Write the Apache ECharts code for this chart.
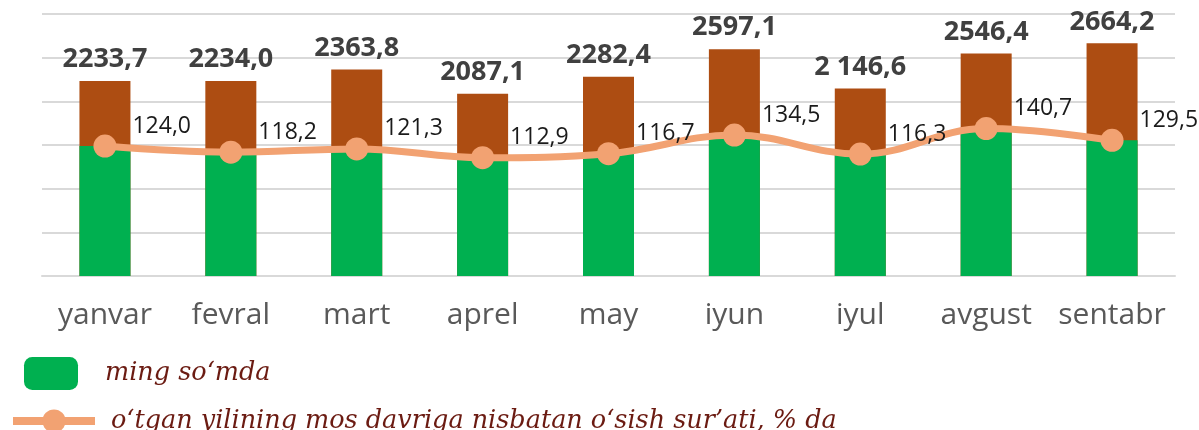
<!DOCTYPE html>
<html>
<head>
<meta charset="utf-8">
<script src="https://cdn.jsdelivr.net/npm/echarts@6/dist/echarts.min.js"></script>
<style>html,body{margin:0;padding:0;background:#fff}#c{width:1199px;height:430px}</style>
</head>
<body>
<div id="c"></div>
<script>
var months = ['yanvar','fevral','mart','aprel','may','iyun','iyul','avgust','sentabr'];
var totals = [2233.7, 2234.0, 2363.8, 2087.1, 2282.4, 2597.1, 2146.6, 2546.4, 2664.2];
var totalLabels = ['2233,7','2234,0','2363,8','2087,1','2282,4','2597,1','2 146,6','2546,4','2664,2'];
var growth = [124.0, 118.2, 121.3, 112.9, 116.7, 134.5, 116.3, 140.7, 129.5];
var barName = 'ming so\u2018mda';
var lineName = 'o\u2018tgan yilining mos davriga nisbatan o\u2018sish sur\u2019ati, % da';

var chart = echarts.init(document.getElementById('c'));
chart.setOption({
  animation: false,
  grid: {left: 42, right: 24, top: 14, bottom: 154},
  legend: [
    {data: [barName], left: 24, top: 357, padding: 0, itemWidth: 54, itemHeight: 33, icon: 'roundRect',
     selectedMode: false,
     textStyle: {fontFamily: 'DejaVu Serif', fontStyle: 'italic', fontSize: 25.5, color: '#6B1B12', padding: [0,0,0,22]}},
    {data: [lineName], left: 9, top: 408, padding: 0, itemWidth: 82, itemHeight: 29,
     selectedMode: false,
     lineStyle: {width: 8, color: '#F2A272'},
     textStyle: {fontFamily: 'DejaVu Serif', fontStyle: 'italic', fontSize: 25.5, color: '#6B1B12', padding: [0,0,0,11]}}
  ],
  xAxis: {
    type: 'category', data: months,
    axisLine: {lineStyle: {color: '#D9D9D9', width: 2}},
    axisTick: {show: false},
    axisLabel: {interval: 0, fontFamily: 'Open Sans', fontSize: 30, color: '#595959', margin: 24}
  },
  yAxis: [
    {type: 'value', min: 0, max: 3000, interval: 500,
     axisLabel: {show: false}, axisLine: {show: false}, axisTick: {show: false},
     splitLine: {lineStyle: {color: '#D9D9D9', width: 2}}},
    {type: 'value', min: 0, max: 250, show: false, splitLine: {show: false}}
  ],
  series: [
    {name: 'jami', type: 'bar', yAxisIndex: 0, data: totals, barWidth: 51, z: 2,
     itemStyle: {color: '#AD4D12'},
     label: {show: true, position: 'top', distance: 8,
       formatter: function (p) { return totalLabels[p.dataIndex]; },
       fontFamily: 'Open Sans', fontWeight: 'bold', fontSize: 27, color: '#404040'}},
    {name: barName, type: 'bar', yAxisIndex: 1, data: growth, barWidth: 51, barGap: '-100%', z: 3,
     itemStyle: {color: '#00B050'}},
    {name: lineName, type: 'line', yAxisIndex: 1, data: growth, smooth: 0.4, z: 5,
     symbol: 'circle', symbolSize: 23,
     lineStyle: {color: '#F2A272', width: 7},
     itemStyle: {color: '#F2A272'},
     label: {show: true, position: 'right', distance: 16, offset: [0, -20],
       formatter: function (p) { return p.value.toFixed(1).replace('.', ','); },
       fontFamily: 'Open Sans', fontSize: 23, color: '#1A1A1A'}}
  ]
});
</script>
</body>
</html>
